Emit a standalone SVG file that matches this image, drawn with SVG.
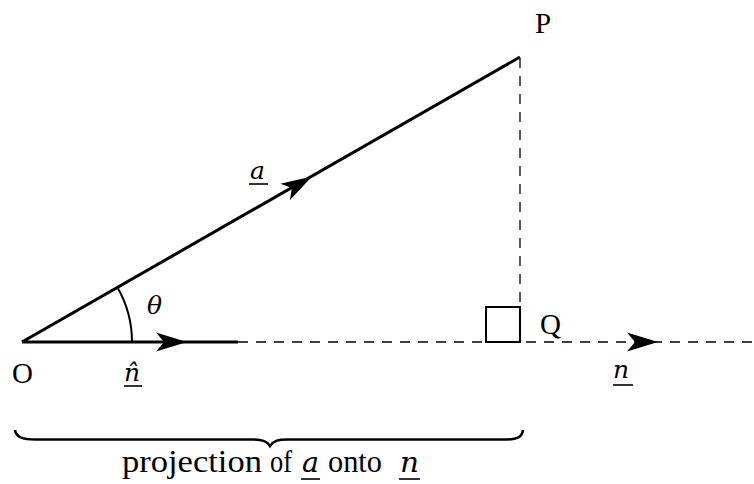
<svg xmlns="http://www.w3.org/2000/svg" xmlns:xlink="http://www.w3.org/1999/xlink" width="754" height="484" viewBox="0 0 754 484">
<style>
.solid{stroke:#000;stroke-width:3;fill:none;stroke-linecap:butt}
.dash{stroke:#000;stroke-width:1.3;fill:none;stroke-dasharray:10 8}
.thin{stroke:#000;stroke-width:2;fill:none}
.ul{stroke:#000;stroke-width:1.6}
text{fill:#000}
.lbl{font-family:'Liberation Serif','DejaVu Serif',serif;font-size:29px}
.math{font-family:'DejaVu Serif',serif;font-style:italic;font-size:25px}
.cap{font-family:'Liberation Serif','DejaVu Serif',serif;font-size:31px}
.capm{font-family:'DejaVu Serif',serif;font-style:italic;font-size:27px}
</style>
<defs>
<path id="ah" d="M0,0 L-31,9.5 L-23,0 L-31,-9.5 Z" fill="#000"/>
</defs>
<rect width="754" height="484" fill="#fff"/>
<g id="connectors">
<line class="solid" x1="22" y1="342" x2="520" y2="57"/>
<line class="solid" x1="22" y1="342" x2="238" y2="342"/>
<line class="dash" x1="238" y1="342" x2="754" y2="342"/>
<line class="dash" x1="520" y1="58" x2="520" y2="342"/>
<path class="thin" d="M132,342 A110,110 0 0 0 117.5,287.5"/>
<use xlink:href="#ah" transform="translate(312,176.6) rotate(-29.7)"/>
<use xlink:href="#ah" transform="translate(187,342)"/>
<use xlink:href="#ah" transform="translate(658,342)"/>
<rect class="thin" x="486" y="307" width="34" height="35"/>
<path d="M15,430 C16,437 22,439.5 36,439.5 L252,439.5 C262,439.5 267,441 270,446 C273,441 278,439.5 288,439.5 L504,439.5 C518,439.5 522,437 523,430" fill="none" stroke="#000" stroke-width="2.5"/>
</g>
<g id="node-O"><text class="lbl" x="12" y="383">O</text></g>
<g id="node-P"><text class="lbl" x="535" y="33">P</text></g>
<g id="node-Q"><text class="lbl" x="540" y="334">Q</text></g>
<g id="label-a"><text class="math" x="250" y="179">a</text><line class="ul" x1="249" y1="184" x2="268" y2="184"/></g>
<g id="label-theta"><text class="math" x="147" y="314">θ</text></g>
<g id="label-nhat"><text class="math" x="124" y="381">n̂</text><line class="ul" x1="124" y1="386" x2="142" y2="386"/></g>
<g id="label-n"><text class="math" x="613" y="378">n</text><line class="ul" x1="613" y1="385" x2="633" y2="385"/></g>
<g id="caption">
<text class="cap" x="122" y="472" textLength="140" lengthAdjust="spacingAndGlyphs">projection</text>
<text class="cap" x="270" y="472" textLength="22" lengthAdjust="spacingAndGlyphs">of</text>
<text class="capm" x="302" y="472" textLength="17" lengthAdjust="spacingAndGlyphs">a</text>
<line class="ul" x1="301" y1="479" x2="320" y2="479"/>
<text class="cap" x="328" y="472" textLength="54" lengthAdjust="spacingAndGlyphs">onto</text>
<text class="capm" x="400" y="472" textLength="19" lengthAdjust="spacingAndGlyphs">n</text>
<line class="ul" x1="399" y1="479" x2="420" y2="479"/>
</g>
</svg>
